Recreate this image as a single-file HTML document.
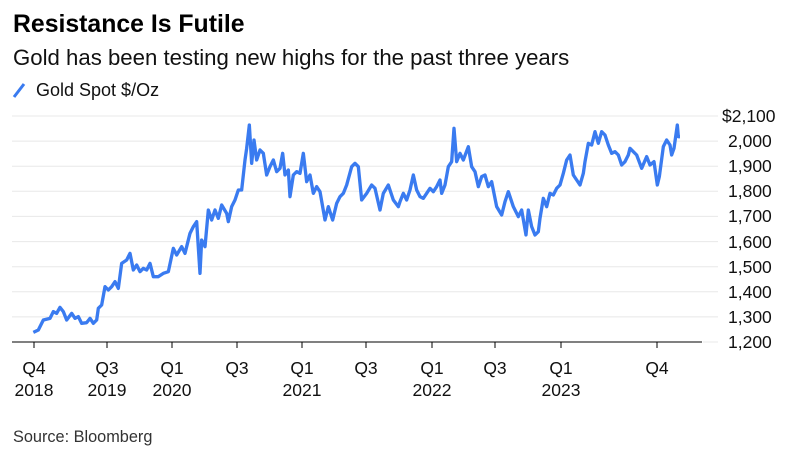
<!DOCTYPE html>
<html><head><meta charset="utf-8"><style>
body{margin:0;background:#fff;width:799px;height:458px;overflow:hidden;font-family:"Liberation Sans",Arial,sans-serif}
</style></head><body>
<svg width="799" height="458" xmlns="http://www.w3.org/2000/svg" font-family="Liberation Sans, Arial, sans-serif">
<text x="13" y="32" font-size="24.8" font-weight="bold" fill="#000">Resistance Is Futile</text>
<text x="13" y="65" font-size="22.2" fill="#111">Gold has been testing new highs for the past three years</text>
<line x1="14" y1="97" x2="24" y2="84" stroke="#3a7bf0" stroke-width="3"/>
<text x="36" y="96" font-size="18" fill="#111">Gold Spot $/Oz</text>
<g stroke="#e8e8e8" stroke-width="1">
<line x1="12" x2="718" y1="116" y2="116"/><line x1="12" x2="718" y1="141.1" y2="141.1"/>
<line x1="12" x2="718" y1="166.2" y2="166.2"/><line x1="12" x2="718" y1="191.3" y2="191.3"/>
<line x1="12" x2="718" y1="216.4" y2="216.4"/><line x1="12" x2="718" y1="241.6" y2="241.6"/>
<line x1="12" x2="718" y1="266.7" y2="266.7"/><line x1="12" x2="718" y1="291.8" y2="291.8"/>
<line x1="12" x2="718" y1="316.9" y2="316.9"/><line x1="703" x2="718" y1="342" y2="342"/>
</g>
<line x1="12" x2="702" y1="342" y2="342" stroke="#000" stroke-width="1"/>
<g stroke="#000" stroke-width="1">
<line x1="34" x2="34" y1="342" y2="348"/><line x1="107" x2="107" y1="342" y2="348"/>
<line x1="172" x2="172" y1="342" y2="348"/><line x1="237" x2="237" y1="342" y2="348"/>
<line x1="302" x2="302" y1="342" y2="348"/><line x1="366" x2="366" y1="342" y2="348"/>
<line x1="432" x2="432" y1="342" y2="348"/><line x1="495" x2="495" y1="342" y2="348"/>
<line x1="561" x2="561" y1="342" y2="348"/><line x1="657" x2="657" y1="342" y2="348"/>
</g>
<g font-size="17.5" fill="#111" text-anchor="middle">
<text x="34" y="374">Q4</text><text x="34" y="396">2018</text>
<text x="107" y="374">Q3</text><text x="107" y="396">2019</text>
<text x="172" y="374">Q1</text><text x="172" y="396">2020</text>
<text x="237" y="374">Q3</text>
<text x="302" y="374">Q1</text><text x="302" y="396">2021</text>
<text x="366" y="374">Q3</text>
<text x="432" y="374">Q1</text><text x="432" y="396">2022</text>
<text x="495" y="374">Q3</text>
<text x="561" y="374">Q1</text><text x="561" y="396">2023</text>
<text x="657" y="374">Q4</text>
</g>
<g font-size="17.5" fill="#111">
<text x="722" y="122">$2,100</text><text x="728" y="147">2,000</text><text x="728" y="172">1,900</text>
<text x="728" y="197">1,800</text><text x="728" y="222">1,700</text><text x="728" y="248">1,600</text>
<text x="728" y="273">1,500</text><text x="728" y="298">1,400</text><text x="728" y="323">1,300</text>
<text x="728" y="348">1,200</text>
</g>
<g transform="translate(0,100) scale(0.33333)" fill="none" stroke="#3a7bf0" stroke-width="10" stroke-linejoin="round">
<polyline points="100,697 115,690 130,660 150,655 160,635 170,640 180,622 190,635 200,660 215,640 225,655 235,650 245,670 260,668 270,655 280,670 290,660 295,625 305,615 315,560 325,570 335,560 345,545 355,565 365,490 380,480 390,460 400,510 410,495 420,515 430,505 440,510 450,490 460,530 475,530 490,520 505,515 520,445 530,465 545,440 555,460 570,400 580,380 590,365 600,520 605,420 615,440 625,330 635,360 645,330 655,355 665,315 680,340 685,365 695,320 705,300 715,270 725,270 735,180 740,145 748,75 755,190 762,120 770,180 780,150 790,160 800,225 810,200 820,180 830,215 840,205 848,160 855,225 865,210 870,290 880,225 890,215 900,220 910,160 920,245 930,225 940,280 950,260 960,275 975,360 985,320 998,360 1010,310 1020,290 1030,280 1040,255 1055,200 1065,190 1075,200 1085,300 1100,280 1115,255 1125,265 1140,330 1150,280 1165,255 1180,300 1195,320 1200,305 1210,280 1220,300 1230,270 1240,225 1250,270 1260,290 1270,295 1280,280 1290,265 1300,275 1310,260 1320,240 1325,280 1335,255 1345,200 1355,185 1362,85 1370,185 1380,160 1390,180 1405,140 1415,200 1425,215 1435,260 1445,230 1455,225 1465,260 1475,245 1490,320 1505,345 1515,305 1525,275 1540,320 1555,350 1565,330 1578,405 1585,330 1595,380 1605,405 1615,395 1620,355 1630,295 1640,320 1650,280 1660,285 1670,265 1680,255 1690,220 1700,180 1710,165 1720,225 1730,240 1740,255 1750,220 1755,185 1765,130 1775,135 1785,95 1795,130 1805,95 1815,105 1825,135 1835,160 1845,155 1855,165 1865,195 1875,185 1885,165 1890,145 1900,155 1910,165 1925,205 1940,170 1950,195 1962,185 1972,255 1978,230 1990,140 2000,120 2010,135 2015,165 2022,145 2032,75 2035,110 2040,110"/>
</g>
<text x="13" y="442" font-size="16.3" fill="#333">Source: Bloomberg</text>
</svg>
</body></html>
